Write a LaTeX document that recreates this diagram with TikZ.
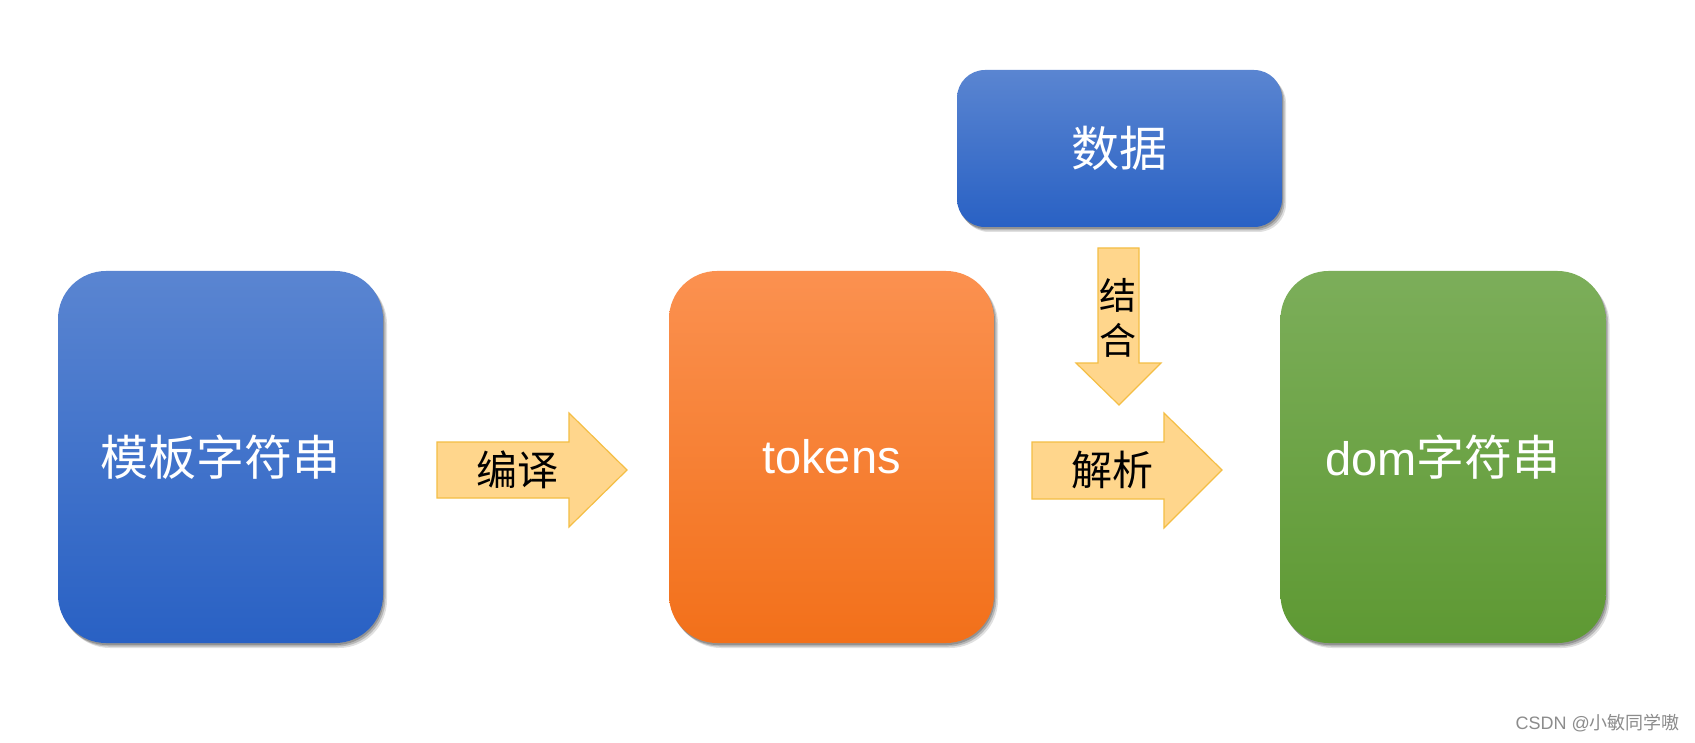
\documentclass[tikz,border=0pt]{standalone}
\usepackage{fontspec}
\setmainfont{Liberation Sans}
\newfontfamily\cjk{Noto Sans CJK SC}
\usetikzlibrary{shadows}
\definecolor{bluetop}{HTML}{5A85D1}
\definecolor{bluebot}{HTML}{2961C4}
\definecolor{orangetop}{HTML}{FB9150}
\definecolor{orangebot}{HTML}{F2701A}
\definecolor{greentop}{HTML}{7CAE5A}
\definecolor{greenbot}{HTML}{5E9933}
\definecolor{arrowfill}{HTML}{FFD68C}
\definecolor{arrowline}{HTML}{F4BE45}
\tikzset{
  softshadow/.style={
    drop shadow={shadow xshift=4pt, shadow yshift=-5pt, opacity=0.12, fill=black},
    drop shadow={shadow xshift=2.5pt, shadow yshift=-3.5pt, opacity=0.18, fill=black},
    drop shadow={shadow xshift=1pt, shadow yshift=-2pt, opacity=0.2, fill=black}},
  bigbox/.style={rounded corners=48pt, minimum width=325pt, minimum height=372pt,
    inner sep=0pt, text=white, font=\fontsize{48}{52}\selectfont, softshadow},
  blockarrow/.style={fill=arrowfill, draw=arrowline, line width=1.2pt, line join=miter},
  arrowlabel/.style={inner sep=0pt, text=black, font=\cjk\fontsize{41}{44}\selectfont}
}
\begin{document}
\begin{tikzpicture}[x=1pt,y=-1pt]
\useasboundingbox[fill=white] (0,0) rectangle (1695,743);
% boxes
\node[bigbox, top color=bluetop, bottom color=bluebot] (tpl) at (220.5,457) {\cjk 模板字符串};
\node[bigbox, font=\fontsize{47}{52}\selectfont, top color=orangetop, bottom color=orangebot] (tok) at (831.5,457) {tokens};
\node[bigbox, font=\fontsize{47}{52}\selectfont, top color=greentop, bottom color=greenbot] (dom) at (1443,457) {dom{\cjk\fontsize{48}{52}\selectfont 字符串}};
\node[bigbox, rounded corners=28pt, minimum height=157pt, top color=bluetop, bottom color=bluebot] (data) at (1119.5,148.5) {\cjk 数据};
% arrow 1
\draw[blockarrow] (437,442) -- (569,442) -- (569,413) -- (627,470) -- (569,527) -- (569,498) -- (437,498) -- cycle;
\node[arrowlabel] (l1) at (517,470) {编译};
% arrow 2
\draw[blockarrow] (1032,442) -- (1164,442) -- (1164,413) -- (1222,470) -- (1164,528) -- (1164,499) -- (1032,499) -- cycle;
\node[arrowlabel] (l2) at (1112,470) {解析};
% down arrow
\draw[blockarrow] (1098,248) -- (1139,248) -- (1139,363) -- (1161,363) -- (1119,405) -- (1076,363) -- (1098,363) -- cycle;
\node[arrowlabel, font=\cjk\fontsize{37}{45}\selectfont, align=center] (l3) at (1118,318) {结\\合};
% watermark
\node[anchor=east, inner sep=0pt, text=black!45, font=\fontsize{18}{20}\selectfont] (wm) at (1680,723) {CSDN @{\cjk 小敏同学嗷}};
\end{tikzpicture}
\end{document}
